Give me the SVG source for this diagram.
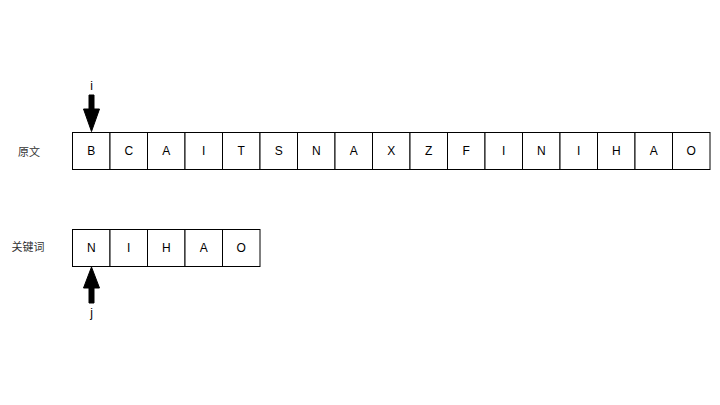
<svg xmlns="http://www.w3.org/2000/svg" width="720" height="405" viewBox="0 0 720 405">
<style>
.c{fill:#fff;stroke:#000;stroke-width:1}
.t{font-family:"Liberation Sans",Arial,sans-serif;font-size:12px;fill:#000;text-anchor:middle;dominant-baseline:central}
.lb{font-family:"Liberation Sans","Noto Sans CJK SC",sans-serif;font-size:11px;fill:#333;text-anchor:middle;dominant-baseline:central}
.ar{fill:#000;stroke:#000;stroke-width:1}
</style>
<rect width="720" height="405" fill="#fff"/>
<g id="label-yuanwen"><text class="lb" x="29" y="152">原文</text></g>
<g id="label-guanjianci"><text class="lb" x="28" y="247">关键词</text></g>
<g id="text-row">
<rect class="c" x="72.5" y="132.5" width="37.5" height="37"/><text class="t" x="91.25" y="151">B</text>
<rect class="c" x="110" y="132.5" width="37.5" height="37"/><text class="t" x="128.75" y="151">C</text>
<rect class="c" x="147.5" y="132.5" width="37.5" height="37"/><text class="t" x="166.25" y="151">A</text>
<rect class="c" x="185" y="132.5" width="37.5" height="37"/><text class="t" x="203.75" y="151">I</text>
<rect class="c" x="222.5" y="132.5" width="37.5" height="37"/><text class="t" x="241.25" y="151">T</text>
<rect class="c" x="260" y="132.5" width="37.5" height="37"/><text class="t" x="278.75" y="151">S</text>
<rect class="c" x="297.5" y="132.5" width="37.5" height="37"/><text class="t" x="316.25" y="151">N</text>
<rect class="c" x="335" y="132.5" width="37.5" height="37"/><text class="t" x="353.75" y="151">A</text>
<rect class="c" x="372.5" y="132.5" width="37.5" height="37"/><text class="t" x="391.25" y="151">X</text>
<rect class="c" x="410" y="132.5" width="37.5" height="37"/><text class="t" x="428.75" y="151">Z</text>
<rect class="c" x="447.5" y="132.5" width="37.5" height="37"/><text class="t" x="466.25" y="151">F</text>
<rect class="c" x="485" y="132.5" width="37.5" height="37"/><text class="t" x="503.75" y="151">I</text>
<rect class="c" x="522.5" y="132.5" width="37.5" height="37"/><text class="t" x="541.25" y="151">N</text>
<rect class="c" x="560" y="132.5" width="37.5" height="37"/><text class="t" x="578.75" y="151">I</text>
<rect class="c" x="597.5" y="132.5" width="37.5" height="37"/><text class="t" x="616.25" y="151">H</text>
<rect class="c" x="635" y="132.5" width="37.5" height="37"/><text class="t" x="653.75" y="151">A</text>
<rect class="c" x="672.5" y="132.5" width="37.5" height="37"/><text class="t" x="691.25" y="151">O</text>
</g>
<g id="key-row">
<rect class="c" x="72.5" y="229.5" width="37.5" height="37"/><text class="t" x="91.25" y="248">N</text>
<rect class="c" x="110" y="229.5" width="37.5" height="37"/><text class="t" x="128.75" y="248">I</text>
<rect class="c" x="147.5" y="229.5" width="37.5" height="37"/><text class="t" x="166.25" y="248">H</text>
<rect class="c" x="185" y="229.5" width="37.5" height="37"/><text class="t" x="203.75" y="248">A</text>
<rect class="c" x="222.5" y="229.5" width="37.5" height="37"/><text class="t" x="241.25" y="248">O</text>
</g>
<g id="connectors">
<g id="arrow-i">
<path class="ar" d="M89,95 H94 V109 H99.5 L91.5,131.5 L83.5,109 H89 Z"/>
<text class="t" x="91.5" y="86">i</text>
</g>
<g id="arrow-j">
<path class="ar" d="M89,303 H94 V288 H99.5 L91.5,267 L83.5,288 H89 Z"/>
<text class="t" x="91.5" y="313">j</text>
</g>
</g>
</svg>
